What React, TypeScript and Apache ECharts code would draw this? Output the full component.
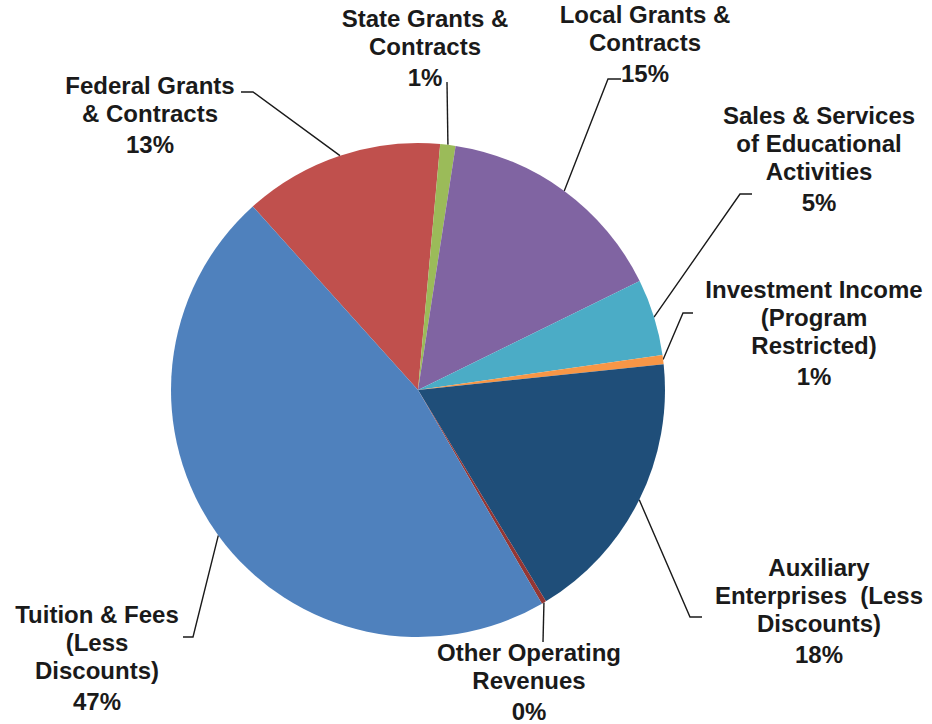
import React, { useEffect, useRef } from 'react';
import * as echarts from 'echarts';

// ---- data ----
const categories = [
  'Federal Grants\n& Contracts',
  'State Grants &\nContracts',
  'Local Grants &\nContracts',
  'Sales & Services\nof Educational\nActivities',
  'Investment Income\n(Program\nRestricted)',
  'Auxiliary\nEnterprises  (Less\nDiscounts)',
  'Other Operating\nRevenues',
  'Tuition & Fees\n(Less\nDiscounts)',
];
const values = [13.1, 1.0, 15.3, 5.0, 0.6, 18.0, 0.3, 46.7];
const colors = ['#C0504D', '#9BBB59', '#8064A2', '#4BACC6', '#F79646', '#1F4E79', '#943634', '#4F81BD'];

// ---- label layout (text block centre x, top y; leader line elbow and end) ----
const labelBoxes = [
  { x: 150, y: 71, elbow: [253, 92], end: [241, 92] },
  { x: 425, y: 4, elbow: [447, 82], end: [447, 82] },
  { x: 645, y: 0, elbow: [608, 79], end: [621, 79] },
  { x: 819, y: 101, elbow: [740, 194], end: [752, 194] },
  { x: 814, y: 275, elbow: [683, 313], end: [693, 313] },
  { x: 819, y: 553, elbow: [690, 617], end: [702, 617] },
  { x: 529, y: 638, elbow: [543, 642], end: [543, 642] },
  { x: 97, y: 600, elbow: [193, 637], end: [183, 637] },
];

const CENTER = [418, 390];
const RADIUS = 247;
const START_ANGLE = 132;

export default function App() {
  const ref = useRef<HTMLDivElement>(null);

  useEffect(() => {
    if (!ref.current) return;
    const chart = echarts.init(ref.current, null, { renderer: 'svg' });
    const total = values.reduce((a, b) => a + b, 0);

    const fallbackAnchor = (idx: number) => {
      let cum = 0;
      for (let i = 0; i < idx; i++) cum += values[i];
      const mid = START_ANGLE - ((cum + values[idx] / 2) / total) * 360;
      const rad = (mid * Math.PI) / 180;
      return [CENTER[0] + RADIUS * Math.cos(rad), CENTER[1] - RADIUS * Math.sin(rad)];
    };

    const textStyleBase = {
      fontFamily: '"Liberation Sans", Arial, sans-serif',
      fontWeight: 'bold',
      fontSize: 24,
      color: '#1a1a1a',
      align: 'center',
    };

    chart.setOption({
      animation: false,
      backgroundColor: '#ffffff',
      series: [
        {
          type: 'pie',
          center: CENTER,
          radius: RADIUS,
          startAngle: START_ANGLE,
          clockwise: true,
          avoidLabelOverlap: false,
          itemStyle: { borderWidth: 0 },
          emphasis: { disabled: true },
          data: categories.map((name, i) => ({
            name,
            value: values[i],
            itemStyle: { color: colors[i] },
          })),
          label: {
            show: true,
            position: 'outside',
            overflow: 'none',
            formatter: (p: any) =>
              `{n|${p.name}}\n{p|${Math.round((p.value / total) * 100)}%}`,
            rich: {
              n: { ...textStyleBase, lineHeight: 28 },
              p: { ...textStyleBase, lineHeight: 34 },
            },
          },
          labelLine: {
            show: true,
            length: 10,
            length2: 10,
            smooth: false,
            lineStyle: { color: '#1a1a1a', width: 1.4 },
          },
          labelLayout: (params: any) => {
            const spec = labelBoxes[params.dataIndex];
            const pts = params.labelLinePoints;
            const anchor = pts && pts[0] ? pts[0] : fallbackAnchor(params.dataIndex);
            return {
              x: spec.x,
              y: spec.y,
              align: 'center',
              verticalAlign: 'top',
              labelLinePoints: [anchor, spec.elbow, spec.end],
            };
          },
        },
      ],
    });

    return () => chart.dispose();
  }, []);

  return (
    <div
      ref={ref}
      style={{ position: 'fixed', left: 0, top: 0, width: 932, height: 724, background: '#fff' }}
    />
  );
}
